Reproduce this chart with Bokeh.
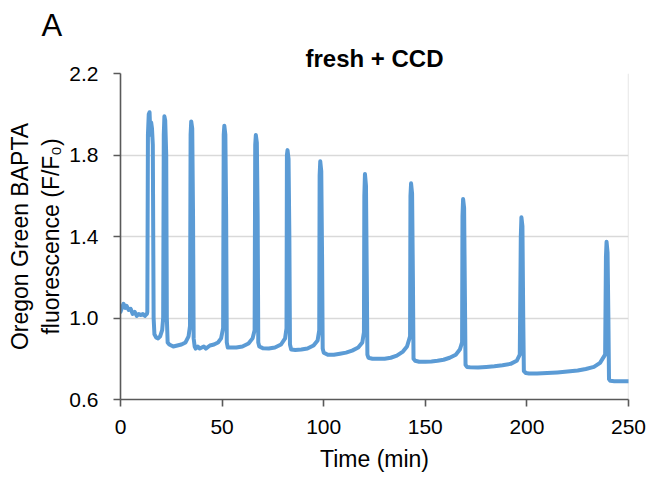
from bokeh.plotting import figure
from bokeh.models import Range1d, FixedTicker, Span, PrintfTickFormatter, Title
from bokeh.embed import file_html
from bokeh.resources import INLINE

# ---- data ----
time_min = [
    0, 0.7, 1.5, 2.3, 3, 4, 5, 6, 7, 8, 9, 10, 11, 12, 13,
    13.2, 13.5, 13.9, 14.3, 14.7, 15.1, 15.5, 15.9, 16.3, 16.7, 17.5, 18.5, 19.5, 20.5, 21.0,
    21.3, 21.6, 22.0, 22.5, 22.8, 23.2,
    24, 26, 28, 30, 32, 33.5, 34.2, 34.5, 34.8, 35.3, 35.7, 36.0, 36.5,
    37, 38, 39, 40, 41, 42, 44, 46, 48, 49.5, 50.5, 50.8, 51.1, 51.6, 52.0, 52.3, 52.8,
    54, 57, 60, 63, 65, 66, 66.3, 66.6, 67.1, 67.5, 67.8, 68.3,
    70, 73, 76, 79, 81, 81.7, 81.9, 82.2, 82.7, 83.1, 83.4, 84,
    86, 89, 92, 95, 97, 97.8, 98.0, 98.3, 98.8, 99.2, 99.5, 100,
    102, 105, 108, 111, 114, 117, 119, 119.8, 120.0, 120.3, 120.8, 121.2, 121.5, 122,
    124, 127, 130, 133, 136, 139, 141, 142.5, 142.7, 143.0, 143.5, 143.9, 144.2, 145,
    147, 150, 153, 156, 159, 162, 165, 167, 168.1, 168.3, 168.6, 169.1, 169.5, 169.8, 170.5,
    172, 176, 180, 184, 188, 192, 195, 196.5, 197.0, 197.3, 197.8, 198.2, 198.5, 199.5,
    201, 205, 210, 215, 220, 225, 229, 233, 236, 238.5, 238.9, 239.2, 239.7, 240.1, 240.4, 241,
    243, 246, 250,
]
f_ratio = [
    1.03, 1.05, 1.07, 1.05, 1.06, 1.04, 1.045, 1.02, 1.03, 1.01, 1.02, 1.015, 1.02, 1.01, 1.02,
    1.03, 1.90, 2.00, 2.01, 1.90, 1.96, 1.93, 1.85, 1.00, 0.92, 0.905, 0.90, 0.91, 0.94, 1.00,
    1.90, 1.99, 1.97, 1.80, 1.00, 0.88,
    0.87, 0.86, 0.865, 0.87, 0.88, 0.91, 0.96, 1.90, 1.965, 1.93, 1.50, 0.90, 0.86,
    0.85, 0.86, 0.85, 0.855, 0.86, 0.85, 0.865, 0.87, 0.88, 0.90, 0.95, 1.90, 1.944, 1.90, 1.50, 0.88, 0.855,
    0.855, 0.855, 0.86, 0.875, 0.90, 0.94, 1.85, 1.898, 1.86, 1.50, 0.88, 0.86,
    0.852, 0.85, 0.855, 0.87, 0.90, 0.95, 1.80, 1.824, 1.78, 1.40, 0.87, 0.845,
    0.843, 0.845, 0.85, 0.865, 0.89, 0.94, 1.70, 1.769, 1.72, 1.30, 0.85, 0.83,
    0.82, 0.82, 0.825, 0.83, 0.84, 0.855, 0.88, 0.93, 1.60, 1.707, 1.65, 1.20, 0.82, 0.805,
    0.80, 0.80, 0.80, 0.805, 0.815, 0.835, 0.86, 0.91, 1.60, 1.661, 1.61, 1.20, 0.80, 0.79,
    0.785, 0.785, 0.787, 0.79, 0.795, 0.805, 0.82, 0.845, 0.88, 1.50, 1.584, 1.54, 1.10, 0.77, 0.76,
    0.758, 0.757, 0.76, 0.763, 0.768, 0.775, 0.79, 0.82, 1.40, 1.494, 1.45, 1.00, 0.74, 0.73,
    0.728, 0.728, 0.73, 0.733, 0.737, 0.742, 0.75, 0.76, 0.78, 0.82, 1.30, 1.374, 1.32, 1.00, 0.70, 0.692,
    0.69, 0.69, 0.69,
]

x_ticks = [0, 50, 100, 150, 200, 250]
y_ticks = [0.6, 1.0, 1.4, 1.8, 2.2]

title_text = "fresh + CCD"
panel_text = "A"
x_label = "Time (min)"
y_label = "Oregon Green BAPTA\nfluorescence (F/F\u2080)"

FONT = "Liberation Sans"
LINE_COLOR = "#5B9BD5"
AXIS_COLOR = "#595959"
GRID_COLOR = "#D9D9D9"

p = figure(width=649, height=480, output_backend="svg", toolbar_location=None,
           x_range=Range1d(0, 250), y_range=Range1d(0.6, 2.2),
           min_border_left=120, min_border_right=21, min_border_top=73, min_border_bottom=81)
p.outline_line_color = None
p.background_fill_color = "white"
p.border_fill_color = "white"

# panel letter (outermost title)
p.title.text = panel_text
p.title.align = "left"
p.title.offset = -79
p.title.text_font = FONT
p.title.text_font_size = "31px"
p.title.text_font_style = "normal"
p.title.text_color = "black"
p.title.standoff = -4

# chart title just above the frame
p.add_layout(Title(text=title_text, align="center", text_font=FONT,
                   text_font_size="24px", text_font_style="bold", text_color="black",
                   standoff=4), "above")

p.xgrid.visible = False
p.ygrid.ticker = FixedTicker(ticks=y_ticks)
p.ygrid.grid_line_color = GRID_COLOR
p.ygrid.grid_line_width = 1.3

p.add_layout(Span(location=250, dimension="height", line_color=GRID_COLOR,
                  line_width=1.3, level="underlay"))

for ax in (p.xaxis[0], p.yaxis[0]):
    ax.axis_line_color = AXIS_COLOR
    ax.axis_line_width = 1.6
    ax.major_tick_line_color = AXIS_COLOR
    ax.major_tick_line_width = 1.6
    ax.major_tick_in = 0
    ax.major_tick_out = 7
    ax.minor_tick_line_color = None
    ax.major_label_text_font = FONT
    ax.major_label_text_font_size = "21px"
    ax.major_label_text_color = "black"
    ax.axis_label_text_font = FONT
    ax.axis_label_text_font_size = "23px"
    ax.axis_label_text_font_style = "normal"
    ax.axis_label_text_color = "black"

p.xaxis.ticker = FixedTicker(ticks=x_ticks)
p.yaxis.ticker = FixedTicker(ticks=y_ticks)
p.yaxis.formatter = PrintfTickFormatter(format="%.1f")
p.yaxis.major_label_standoff = 15
p.xaxis.major_label_standoff = 13
p.xaxis.axis_label = x_label
p.xaxis.axis_label_standoff = 9
p.yaxis.axis_label = y_label
p.yaxis.axis_label_standoff = 2

p.line(time_min, f_ratio, line_color=LINE_COLOR, line_width=4, line_join="round", line_cap="round")

open("out.html", "w").write(file_html(p, INLINE))
